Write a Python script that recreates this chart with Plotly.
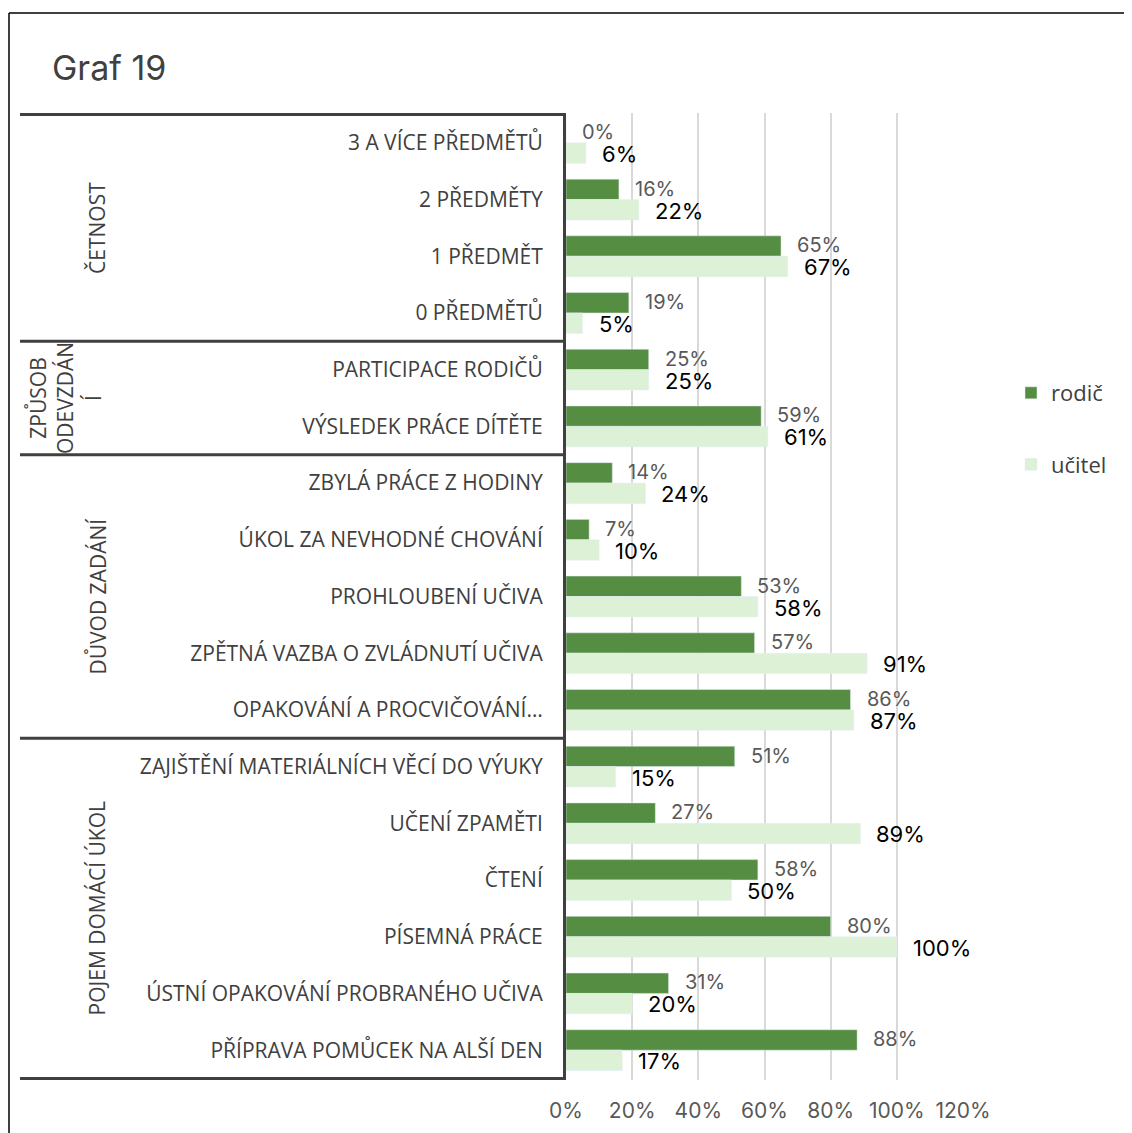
import plotly.graph_objects as go

# data
kategorie = [
    '3 A VÍCE PŘEDMĚTŮ', '2 PŘEDMĚTY', '1 PŘEDMĚT', '0 PŘEDMĚTŮ',
    'PARTICIPACE RODIČŮ', 'VÝSLEDEK PRÁCE DÍTĚTE',
    'ZBYLÁ PRÁCE Z HODINY', 'ÚKOL ZA NEVHODNÉ CHOVÁNÍ', 'PROHLOUBENÍ UČIVA',
    'ZPĚTNÁ VAZBA O ZVLÁDNUTÍ UČIVA', 'OPAKOVÁNÍ A PROCVIČOVÁNÍ…',
    'ZAJIŠTĚNÍ MATERIÁLNÍCH VĚCÍ DO VÝUKY', 'UČENÍ ZPAMĚTI', 'ČTENÍ',
    'PÍSEMNÁ PRÁCE', 'ÚSTNÍ OPAKOVÁNÍ PROBRANÉHO UČIVA', 'PŘÍPRAVA POMŮCEK NA ALŠÍ DEN',
]
rodic = [0.00, 0.16, 0.65, 0.19, 0.25, 0.59, 0.14, 0.07, 0.53, 0.57, 0.86,
         0.51, 0.27, 0.58, 0.80, 0.31, 0.88]
ucitel = [0.06, 0.22, 0.67, 0.05, 0.25, 0.61, 0.24, 0.10, 0.58, 0.91, 0.87,
          0.15, 0.89, 0.50, 1.00, 0.20, 0.17]

# skupiny: (název, první index, poslední index)
skupiny = [
    ('ČETNOST', 0, 3),
    ('ZPŮSOB<br>ODEVZDÁN<br>Í', 4, 5),
    ('DŮVOD ZADÁNÍ', 6, 10),
    ('POJEM DOMÁCÍ ÚKOL', 11, 16),
]

# stránka má okraj 8 px -> figura je o 8 px posunutá
OFF = 8
W, H = 1132 - OFF, 1133 - OFF
L, R, T, B = 566, 963, 113, 1080   # souřadnice v referenčním obrázku
pw, ph = R - L, B - T

def px_x(p):
    return (p - L) / pw

def px_y(p):
    return (B - p) / ph

fig = go.Figure()
fig.add_trace(go.Bar(name='rodič', y=kategorie, x=rodic, orientation='h',
                     marker=dict(color='#558E42'), legendgroup='a'))
fig.add_trace(go.Bar(name='učitel', y=kategorie, x=ucitel, orientation='h',
                     marker=dict(color='#DCF1D5'), legendgroup='b'))

# popisky hodnot
for k, v in zip(kategorie, rodic):
    fig.add_annotation(x=v, y=k, text=f'{round(v*100)}%', showarrow=False,
                       xanchor='left', yanchor='middle', xshift=14, yshift=11,
                       font=dict(family='Inter', size=20, color='#595959'))
for k, v in zip(kategorie, ucitel):
    fig.add_annotation(x=v, y=k, text=f'{round(v*100)}%', showarrow=False,
                       xanchor='left', yanchor='middle', xshift=14, yshift=-11,
                       font=dict(family='Inter', size=22, color='#000000'))

# oddělovače skupin
hranice = [-0.5] + [s[2] + 0.5 for s in skupiny]
for yy in hranice:
    fig.add_shape(type='line', xref='paper', yref='y', x0=px_x(20), x1=0,
                  y0=yy, y1=yy, line=dict(color='#404040', width=3))

# názvy skupin
for nazev, a, b in skupiny:
    xpos = px_x(65) if '<br>' in nazev else px_x(97)
    fig.add_annotation(xref='paper', x=xpos, y=(a + b) / 2, yref='y',
                       xanchor='center', yanchor='middle',
                       text=nazev, textangle=-90, showarrow=False,
                       font=dict(family='Open Sans', size=21, color='#404040'))

# rámeček
fig.add_shape(type='line', xref='paper', yref='paper', x0=px_x(9), x1=px_x(1140),
              y0=px_y(13), y1=px_y(13), line=dict(color='#000000', width=1.5))
fig.add_shape(type='line', xref='paper', yref='paper', x0=px_x(9), x1=px_x(9),
              y0=px_y(13), y1=px_y(1140), line=dict(color='#000000', width=1.5))

fig.update_layout(
    width=W, height=H,
    margin=dict(l=L - OFF, r=W - (R - OFF), t=T - OFF, b=H - (B - OFF), autoexpand=False),
    paper_bgcolor='white', plot_bgcolor='white',
    barmode='group', bargap=0.28, bargroupgap=0,
    title=dict(text='Graf 19', x=(52 - OFF) / W, xanchor='left',
               y=1 - (68 - OFF) / H, yanchor='middle',
               font=dict(family='Inter', size=34, color='#404040')),
    legend=dict(x=px_x(1011), y=px_y(372), xanchor='left', yanchor='top',
                font=dict(family='Open Sans', size=22, color='#404040'),
                tracegroupgap=40, traceorder='grouped', itemwidth=30,
                bgcolor='rgba(0,0,0,0)'),
    xaxis=dict(range=[0, 1.2], dtick=0.2, tickformat='.0%', showgrid=True,
               gridcolor='#D9D9D9', gridwidth=1.5, zeroline=False, showline=False,
               tickfont=dict(family='Inter', size=21, color='#595959'),
               ticklabelstandoff=16),
    yaxis=dict(autorange='reversed', showline=True, linecolor='#404040', linewidth=3,
               tickfont=dict(family='Open Sans', size=21, color='#404040'),
               ticklabelstandoff=16),
)

fig.write_html('out.html')
